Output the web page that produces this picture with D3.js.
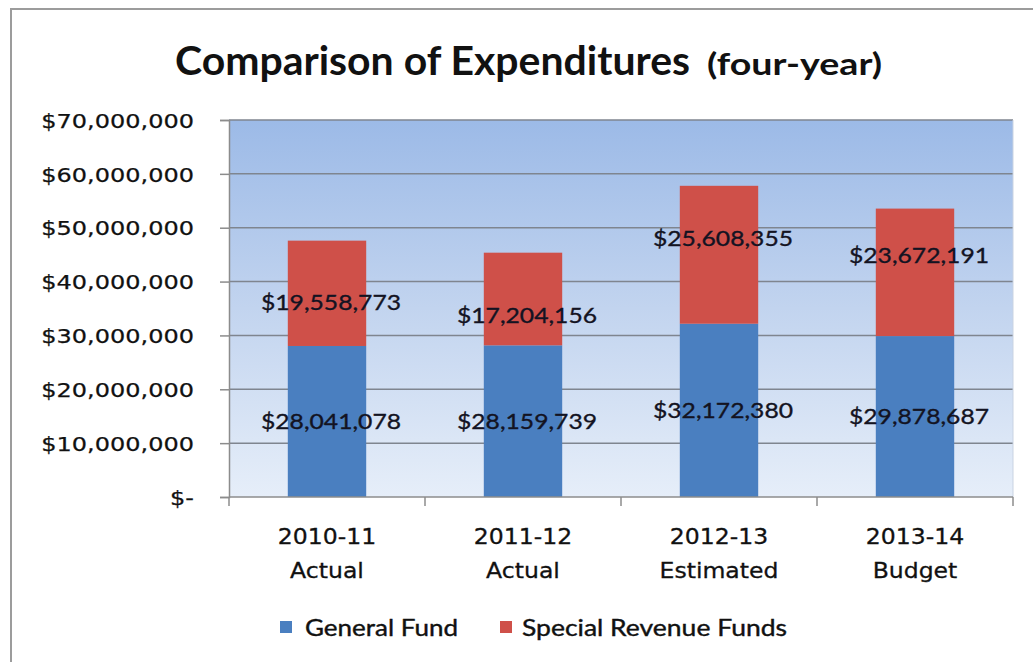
<!DOCTYPE html>
<html>
<head>
<meta charset="utf-8">
<script src="https://cdn.jsdelivr.net/npm/d3@7"></script>
<style>
  body { margin: 0; background: #ffffff; }
  svg { display: block; }
</style>
</head>
<body>
<svg id="chart" width="1033" height="662"></svg>
<script>
// ---- data ----
const categories = ["2010-11", "2011-12", "2012-13", "2013-14"];
const categorySubtitles = ["Actual", "Actual", "Estimated", "Budget"];
const generalFund = [28041078, 28159739, 32172380, 29878687];
const specialRevenueFunds = [19558773, 17204156, 25608355, 23672191];
const seriesNames = ["General Fund", "Special Revenue Funds"];
const yTickValues = [0, 10000000, 20000000, 30000000, 40000000, 50000000, 60000000, 70000000];
const yTickLabels = ["$-", "$10,000,000", "$20,000,000", "$30,000,000", "$40,000,000", "$50,000,000", "$60,000,000", "$70,000,000"];

// vertical nudges (px) for the upper segment labels, as laid out by hand
const upperLabelNudge = [9, 16, -17, -17];

// ---- layout ----
const W = 1033, H = 662;
const plot = { left: 229, right: 1013, top: 120, bottom: 497 };
const colors = { general: "#4a7fc0", special: "#cf5049" };

const svg = d3.select("#chart");

// fit a text element to a target width while keeping it real text
function fitWidth(sel, target) {
  sel.each(function () {
    const natural = this.getComputedTextLength();
    if (natural > 0) {
      d3.select(this).attr("textLength", target).attr("lengthAdjust", "spacingAndGlyphs");
    }
  });
}
function stretch(sel, factor) {
  sel.each(function () {
    const natural = this.getComputedTextLength();
    d3.select(this).attr("textLength", natural * factor).attr("lengthAdjust", "spacingAndGlyphs");
  });
}

// outer frame
svg.append("rect").attr("x", 0).attr("y", 0).attr("width", W).attr("height", H).attr("fill", "#ffffff");
svg.append("line").attr("x1", 10).attr("x2", W).attr("y1", 9).attr("y2", 9)
  .attr("stroke", "#9c9c9c").attr("stroke-width", 2);
svg.append("line").attr("x1", 11).attr("x2", 11).attr("y1", 9).attr("y2", H)
  .attr("stroke", "#9c9c9c").attr("stroke-width", 2);

// ---- scales ----
const x = d3.scaleBand()
  .domain(categories)
  .range([plot.left, plot.right])
  .paddingInner(0.6)
  .paddingOuter(0.3);

const y = d3.scaleLinear()
  .domain([0, 70000000])
  .range([plot.bottom, plot.top]);

// plot background gradient
const defs = svg.append("defs");
const grad = defs.append("linearGradient").attr("id", "plotBg")
  .attr("x1", 0).attr("y1", 0).attr("x2", 0).attr("y2", 1);
grad.append("stop").attr("offset", "0%").attr("stop-color", "#9cbae7");
grad.append("stop").attr("offset", "50%").attr("stop-color", "#c2d4ef");
grad.append("stop").attr("offset", "100%").attr("stop-color", "#e6eef9");

svg.append("rect")
  .attr("x", plot.left).attr("y", plot.top)
  .attr("width", plot.right - plot.left).attr("height", plot.bottom - plot.top)
  .attr("fill", "url(#plotBg)");

// gridlines
svg.append("g")
  .selectAll("line")
  .data(yTickValues.filter(v => v > 0))
  .join("line")
  .attr("x1", plot.left).attr("x2", plot.right)
  .attr("y1", d => y(d)).attr("y2", d => y(d))
  .attr("stroke", "#7f858f").attr("stroke-width", 1.5);

// right plot edge
svg.append("line")
  .attr("x1", plot.right).attr("x2", plot.right)
  .attr("y1", plot.top).attr("y2", plot.bottom)
  .attr("stroke", "#c9d3e2").attr("stroke-width", 1);

// ---- stacked bars ----
const stackRows = categories.map((c, i) => ({
  category: c,
  general: generalFund[i],
  special: specialRevenueFunds[i]
}));
const stacked = d3.stack().keys(["general", "special"])(stackRows);

svg.append("g")
  .selectAll("g")
  .data(stacked)
  .join("g")
  .attr("fill", d => colors[d.key])
  .selectAll("rect")
  .data(d => d)
  .join("rect")
  .attr("x", d => x(d.data.category))
  .attr("width", x.bandwidth())
  .attr("y", d => y(d[1]))
  .attr("height", d => y(d[0]) - y(d[1]));

// ---- axes ----
const yAxis = d3.axisLeft(y)
  .tickValues(yTickValues)
  .tickFormat((d, i) => yTickLabels[i])
  .tickSize(9)
  .tickPadding(26);

const gy = svg.append("g")
  .attr("transform", `translate(${plot.left},0)`)
  .call(yAxis);
gy.select(".domain").attr("stroke", "#8c8c8c").attr("stroke-width", 1.5);
gy.selectAll(".tick line").attr("stroke", "#8c8c8c").attr("stroke-width", 1.5);
gy.selectAll(".tick text")
  .attr("font-family", "'DejaVu Sans', sans-serif")
  .attr("font-size", 20)
  .attr("fill", "#111")
  .attr("stroke", "#111")
  .attr("stroke-width", 0.25)
  .attr("dy", "0.36em");
stretch(gy.selectAll(".tick text"), 1.2);

// bottom axis line with boundary ticks
const gx = svg.append("g");
gx.append("line")
  .attr("x1", plot.left).attr("x2", plot.right)
  .attr("y1", plot.bottom).attr("y2", plot.bottom)
  .attr("stroke", "#8c8c8c").attr("stroke-width", 1.5);
const boundaries = categories.map(c => x(c) - x.step() * x.paddingOuter()).concat([plot.right]);
gx.selectAll("line.tick")
  .data(boundaries)
  .join("line")
  .attr("class", "tick")
  .attr("x1", d => d).attr("x2", d => d)
  .attr("y1", plot.bottom).attr("y2", plot.bottom + 9)
  .attr("stroke", "#8c8c8c").attr("stroke-width", 1.5);

// category labels (two lines)
const catG = svg.append("g")
  .attr("font-family", "'DejaVu Sans', sans-serif")
  .attr("font-size", 22)
  .attr("fill", "#111")
  .attr("stroke", "#111")
  .attr("stroke-width", 0.3)
  .attr("text-anchor", "middle");
const cat1 = catG.selectAll("text.line1")
  .data(categories)
  .join("text")
  .attr("class", "line1")
  .attr("x", d => x(d) + x.bandwidth() / 2)
  .attr("y", 544)
  .text(d => d);
stretch(cat1, 1.07);
const cat2 = catG.selectAll("text.line2")
  .data(categorySubtitles)
  .join("text")
  .attr("class", "line2")
  .attr("x", (d, i) => x(categories[i]) + x.bandwidth() / 2)
  .attr("y", 578)
  .text(d => d);
stretch(cat2, 1.07);

// ---- value labels ----
const fmt = v => "$" + d3.format(",")(v);
const labelG = svg.append("g")
  .attr("font-family", "Lato, 'Open Sans', sans-serif")
  .attr("font-size", 22)
  .attr("fill", "#131322")
  .attr("stroke", "#131322")
  .attr("stroke-width", 0.35)
  .attr("text-anchor", "middle");

stacked.forEach(layer => {
  const t = labelG.selectAll(null)
    .data(layer)
    .join("text")
    .attr("x", d => x(d.data.category) + x.bandwidth() / 2 + 4)
    .attr("y", (d, i) => (y(d[0]) + y(d[1])) / 2 + (layer.key === "special" ? upperLabelNudge[i] : 0))
    .attr("dy", "0.36em")
    .text(d => fmt(d.data[layer.key]));
  fitWidth(t, 140);
});

// ---- title ----
const t1 = svg.append("text")
  .attr("x", 175).attr("y", 75)
  .attr("font-family", "Lato, 'Open Sans', sans-serif")
  .attr("font-weight", "bold")
  .attr("font-size", 40)
  .attr("fill", "#111")
  .text("Comparison of Expenditures");
fitWidth(t1, 515);
const t2 = svg.append("text")
  .attr("x", 707).attr("y", 75)
  .attr("font-family", "Lato, 'Open Sans', sans-serif")
  .attr("font-weight", "bold")
  .attr("font-size", 30)
  .attr("fill", "#111")
  .text("(four-year)");
fitWidth(t2, 175);

// ---- legend ----
const legendItems = [
  { name: seriesNames[0], color: colors.general, sx: 280, tx: 305, w: 153 },
  { name: seriesNames[1], color: colors.special, sx: 500, tx: 522, w: 265 }
];
const lg = svg.append("g");
legendItems.forEach(it => {
  lg.append("rect").attr("x", it.sx).attr("y", 621).attr("width", 12).attr("height", 12).attr("fill", it.color);
  const tt = lg.append("text")
    .attr("x", it.tx).attr("y", 636)
    .attr("font-family", "Lato, 'Open Sans', sans-serif")
    .attr("font-size", 23)
    .attr("fill", "#111")
    .attr("stroke", "#111")
    .attr("stroke-width", 0.4)
    .text(it.name);
  fitWidth(tt, it.w);
});
</script>
</body>
</html>
